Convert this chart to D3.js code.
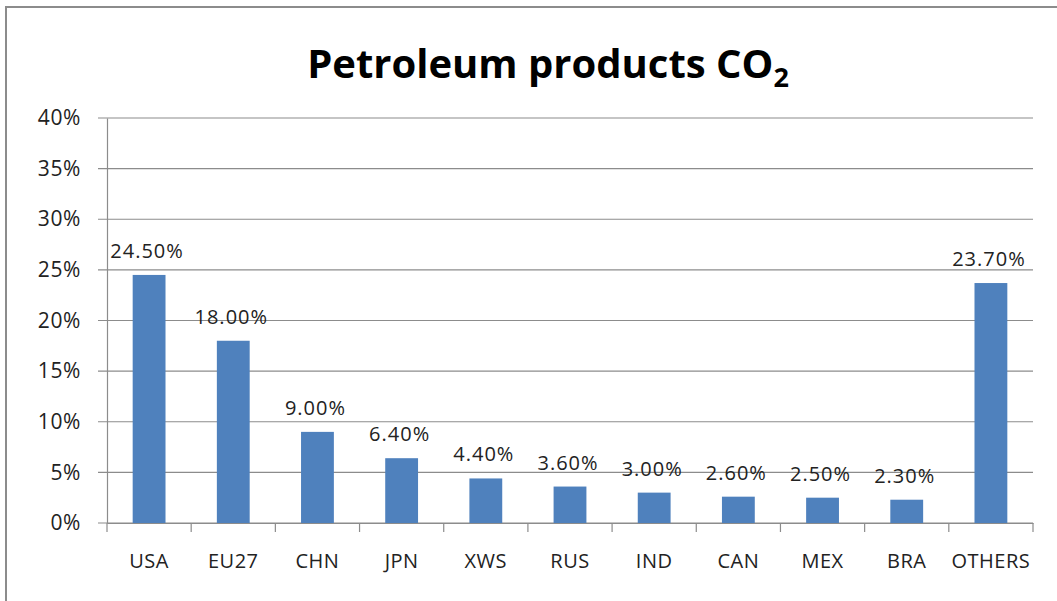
<!DOCTYPE html>
<html>
<head>
<meta charset="utf-8">
<script src="https://cdn.jsdelivr.net/npm/d3@7"></script>
<style>
  body { margin: 0; background: #fff; }
  text { font-family: "Open Sans", "Liberation Sans", sans-serif; fill: #222; }
</style>
</head>
<body>
<svg width="1057" height="601"></svg>
<script>
// chart data
var categories = ["USA", "EU27", "CHN", "JPN", "XWS", "RUS", "IND", "CAN", "MEX", "BRA", "OTHERS"];
var shares = [24.5, 18.0, 9.0, 6.4, 4.4, 3.6, 3.0, 2.6, 2.5, 2.3, 23.7];
var yTicks = [0, 5, 10, 15, 20, 25, 30, 35, 40];

var margin = {top: 118, right: 24, bottom: 78, left: 107};
var width = 1057 - margin.left - margin.right;
var height = 601 - margin.top - margin.bottom;

var svg = d3.select("svg");

// outer frame (only left and top edges show)
svg.append("rect")
   .attr("x", 6).attr("y", 7)
   .attr("width", 1100).attr("height", 650)
   .attr("fill", "none")
   .attr("stroke", "#8c8c8c")
   .attr("stroke-width", 2);

// title
var title = svg.append("text")
   .attr("x", 548).attr("y", 78)
   .attr("text-anchor", "middle")
   .style("font-size", "40px")
   .style("font-weight", "bold")
   .style("fill", "#000");
title.append("tspan").text("Petroleum products CO");
title.append("tspan").attr("dy", 9).style("font-size", "27px").text("2");

var g = svg.append("g")
   .attr("transform", "translate(" + margin.left + "," + margin.top + ")");

var x = d3.scaleBand()
   .domain(categories)
   .range([0, width])
   .paddingInner(0.61)
   .paddingOuter(0.305);

var y = d3.scaleLinear()
   .domain([0, 40])
   .range([height, 0]);

// gridlines
g.append("g")
   .selectAll("line")
   .data(yTicks)
   .enter()
   .append("line")
   .attr("x1", -9).attr("x2", width)
   .attr("y1", d => y(d)).attr("y2", d => y(d))
   .attr("stroke", "#8c8c8c")
   .attr("stroke-width", 1.2);

// y axis
var yAxis = g.append("g")
   .call(d3.axisLeft(y).tickValues(yTicks).tickSize(0).tickPadding(26).tickFormat(d => d + "%"));
yAxis.select(".domain").attr("stroke", "#8c8c8c").attr("stroke-width", 1.2);
yAxis.selectAll("text").style("font-size", "21px").style("letter-spacing", "0.6px").style("fill", "#222");

// x axis (ticks between categories)
var xAxis = g.append("g")
   .attr("transform", "translate(0," + height + ")")
   .call(d3.axisBottom(x).tickSize(0).tickPadding(31));
xAxis.select(".domain").attr("stroke", "#8c8c8c").attr("stroke-width", 1.2);
xAxis.selectAll("text").style("font-size", "20px").style("letter-spacing", "0.5px").style("fill", "#222");

var step = x.step();
g.append("g")
   .selectAll("line")
   .data(d3.range(categories.length + 1))
   .enter()
   .append("line")
   .attr("x1", i => i * step).attr("x2", i => i * step)
   .attr("y1", height).attr("y2", height + 9)
   .attr("stroke", "#8c8c8c")
   .attr("stroke-width", 1.2);

var data = categories.map((c, i) => ({cat: c, value: shares[i]}));

// bars
g.append("g")
   .selectAll("rect")
   .data(data)
   .enter()
   .append("rect")
   .attr("x", d => x(d.cat))
   .attr("y", d => y(d.value))
   .attr("width", x.bandwidth())
   .attr("height", d => height - y(d.value))
   .attr("fill", "#4f81bd");

// value labels
g.append("g")
   .selectAll("text")
   .data(data)
   .enter()
   .append("text")
   .attr("x", d => x(d.cat) + x.bandwidth() / 2 - 2)
   .attr("y", d => y(d.value) - 17)
   .attr("text-anchor", "middle")
   .style("font-size", "20px")
   .style("letter-spacing", "1px")
   .text(d => d.value.toFixed(2) + "%");
</script>
</body>
</html>
